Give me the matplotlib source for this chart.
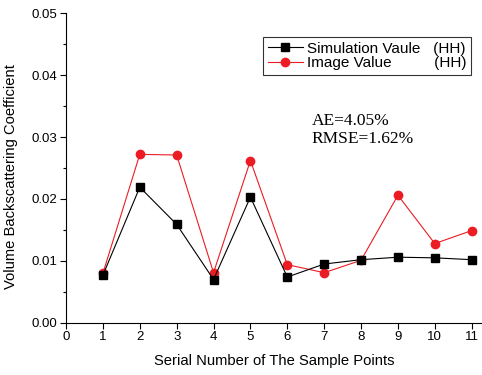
import numpy as np
import matplotlib.pyplot as plt
from matplotlib.ticker import MultipleLocator

points = np.arange(1, 12)
simulation = [0.0077, 0.0219, 0.0159, 0.0070, 0.0203, 0.0074,
              0.0095, 0.0102, 0.0106, 0.0105, 0.0102]
image = [0.0080, 0.0272, 0.0271, 0.0081, 0.0262, 0.0094,
         0.0081, 0.0101, 0.0206, 0.0128, 0.0149]
xticks = list(range(0, 12))
yticks = [0.00, 0.01, 0.02, 0.03, 0.04, 0.05]

plt.rcParams['font.family'] = ['Liberation Sans', 'DejaVu Sans']

fig = plt.figure(figsize=(4.82, 3.75), dpi=100)
ax = fig.add_axes([0.137, 0.139, 0.863, 0.826])

red = '#ec1c24'
ax.plot(points, simulation, color='black', lw=0.8, marker='s', ms=5.5,
        label='Simulation Vaule   (HH)', zorder=3)
ax.plot(points, image, color=red, lw=0.8, marker='o', ms=6,
        label='Image Value          (HH)', zorder=2)

ax.set_xlim(0, 11.28)
ax.set_ylim(0, 0.05)
ax.set_xticks(xticks)
ax.set_yticks(yticks)
ax.set_yticklabels([f'{v:.2f}' for v in yticks])
ax.yaxis.set_minor_locator(MultipleLocator(0.005))
ax.tick_params(axis='both', which='major', direction='out', length=4,
               width=0.8, labelsize=9.5, pad=2)
ax.tick_params(axis='y', which='minor', direction='out', length=2.5, width=0.8)
for side in ['top', 'right']:
    ax.spines[side].set_visible(False)
for side in ['left', 'bottom']:
    ax.spines[side].set_linewidth(0.8)

ax.set_xlabel('Serial Number of The Sample Points', fontsize=10.6, labelpad=8)
ax.set_ylabel('Volume Backscattering Coefficient', fontsize=10.6)
ax.yaxis.set_label_coords(-0.115, 0.473)

leg = ax.legend(loc='upper left', bbox_to_anchor=(0.4736, 0.9226),
                fontsize=11, frameon=True, fancybox=False,
                borderpad=0.3, handlelength=2.3, handletextpad=0.3,
                labelspacing=0.05, borderaxespad=0)
leg.get_frame().set_edgecolor('black')
leg.get_frame().set_linewidth(0.8)

ax.text(0.591, 0.676, 'AE=4.05%\nRMSE=1.62%', transform=ax.transAxes,
        family=['Liberation Serif', 'DejaVu Serif'], fontsize=12.5,
        va='top', ha='left', linespacing=1.15)

fig.savefig('out.png', dpi=100)
